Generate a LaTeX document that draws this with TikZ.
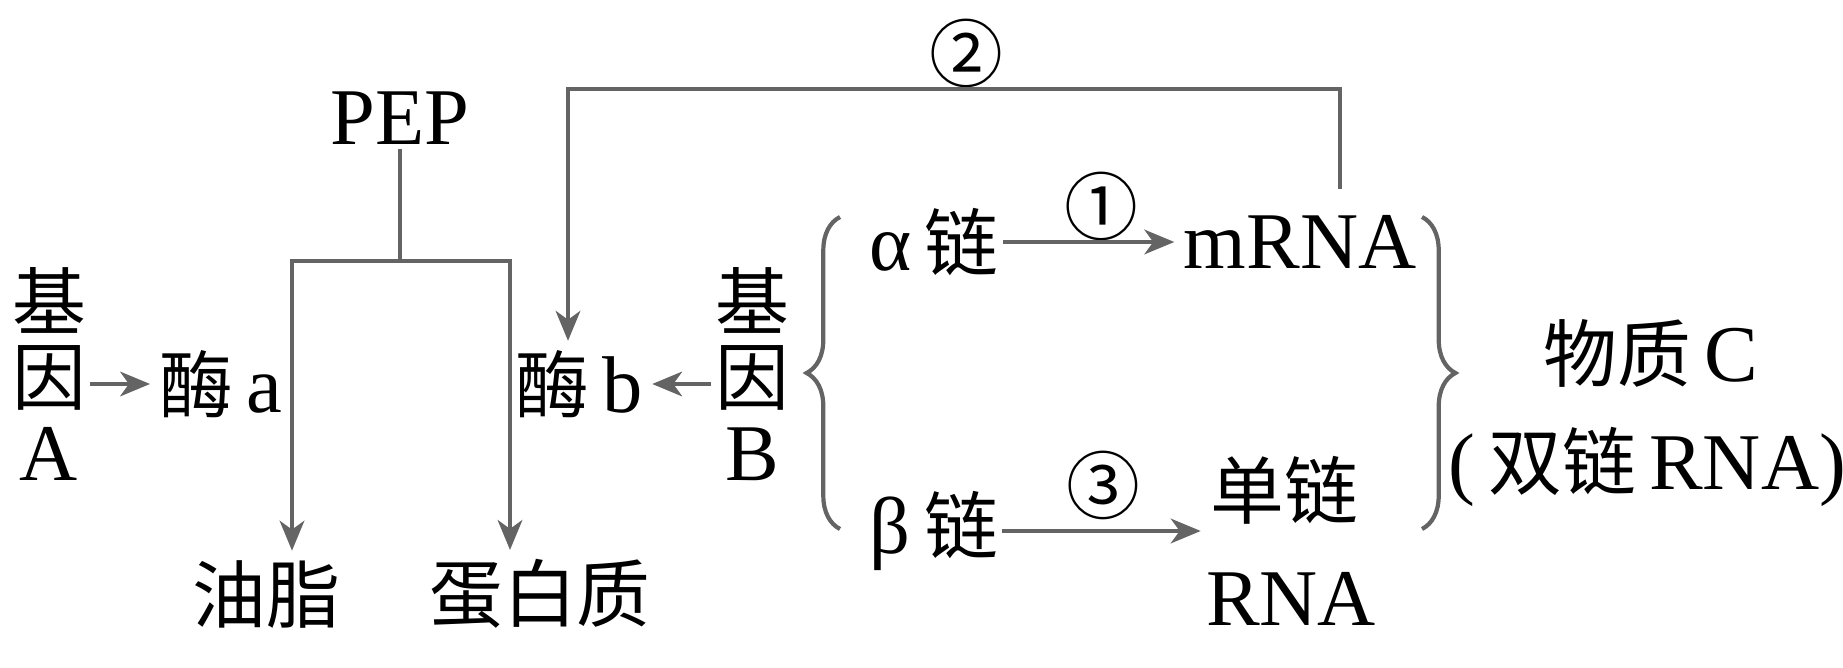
\documentclass[tikz,border=0pt]{standalone}
\usepackage{fontspec}
\setmainfont{Liberation Serif}[Scale=1.09]
\newfontfamily\cjk{Noto Sans CJK SC}
\usetikzlibrary{arrows.meta,decorations.pathreplacing}
\newcommand{\zh}[1]{{\cjk #1}}
\definecolor{lgray}{RGB}{100,100,100}
\tikzset{every node/.style={inner sep=1pt,font=\fontsize{21}{21.5}\selectfont,align=center}}
\tikzset{arw/.style = {->,>={Stealth[length=8.5pt,width=7pt,inset=2.5pt]},draw=lgray,line width=1.2pt,shorten >=1.5pt}}
\tikzset{lin/.style = {draw=lgray,line width=1.2pt}}
\tikzset{brc/.style = {draw=lgray,line width=1.2pt,decorate,decoration={brace,amplitude=9.5pt}}}

\begin{document}
\begin{tikzpicture}
      \useasboundingbox (0,0) rectangle (18.43,6.67);

      \node (geneA) at (0.49,2.93) {\zh{基}\\\zh{因}\\A};
      \node (enzA) at (2.21,2.83) {\zh{酶}\,a};
      \node (pep) at (4.00,5.49) {PEP};
      \node (oil) at (2.66,0.73) {\zh{油脂}};
      \node (prot) at (5.40,0.73) {\zh{蛋白质}};
      \node (enzB) at (5.79,2.83) {\zh{酶}\,b};
      \node (geneB) at (7.52,2.93) {\zh{基}\\\zh{因}\\B};
      \node (alpha) at (9.34,4.25) {α\,\zh{链}};
      \node (mrna) at (13.00,4.25) {mRNA};
      \node (beta) at (9.34,1.36) {β\,\zh{链}};
      \node (ss) at (12.84,1.77) {\zh{单链}};
      \node (ssrna) at (12.91,0.68) {RNA};
      \node (c1) at (11.01,4.61) {\zh{①}};
      \node (c2) at (9.66,6.14) {\zh{②}};
      \node (c3) at (11.03,1.82) {\zh{③}};
      \node (subC) at (16.51,3.14) {\zh{物质}\,C};
      \node (dsrna) at (16.47,2.00) {(\,\zh{双链}\,RNA)};

      \coordinate (split) at (4.00,4.06);
      \coordinate (lfork) at (2.92,4.06);
      \coordinate (rfork) at (5.10,4.06);
      \coordinate (l2) at (5.68,5.78);

 \draw[lin] (pep) -- (split);
 \foreach \f/\n in {lfork/oil,rfork/prot}
   \draw[arw] (split) -- (\f) -- (\f |- \n.north);

 \draw[arw] (geneA.east |- enzA) -- (enzA);
 \draw[arw] (geneB.west |- enzB) -- (enzB);
 \draw[arw] (alpha) -- (mrna);
 \draw[arw] (beta) -- (beta -| ss.west);
 \draw[arw] ([xshift=4mm,yshift=2.2mm]mrna.north) |- (l2) -- (l2 |- enzB.north);

 \draw[brc] (8.40,1.38) -- (8.40,4.50);
 \draw[brc] (14.22,4.50) -- (14.22,1.38);

\end{tikzpicture}
\end{document}
